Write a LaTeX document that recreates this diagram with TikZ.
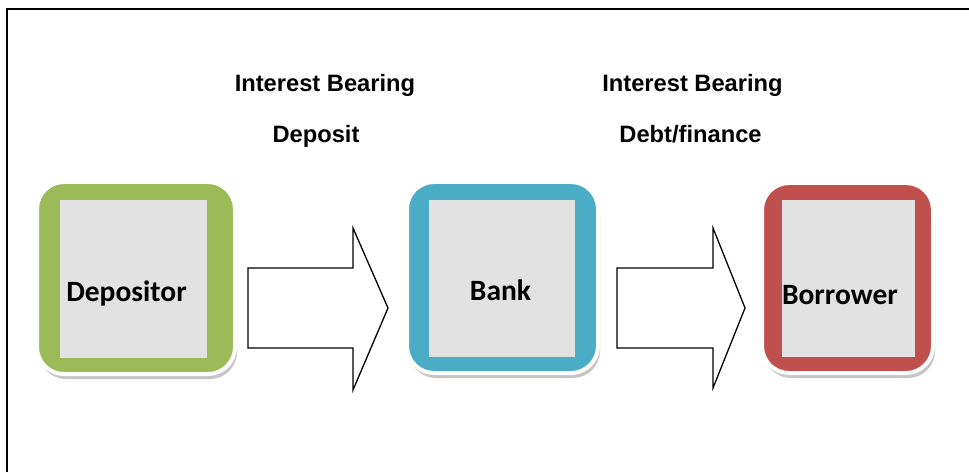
\documentclass[tikz,border=0pt]{standalone}
\usepackage{fontspec}
\setmainfont{Liberation Sans}
\newfontfamily\calibrifont{Carlito}
\usetikzlibrary{shadows}
\definecolor{boxgreen}{HTML}{9BBB59}
\definecolor{boxblue}{HTML}{4BACC6}
\definecolor{boxred}{HTML}{C0504D}
\definecolor{innergrey}{HTML}{E2E2E2}
\tikzset{
  outerbox/.style={draw=white, line width=4pt, rounded corners=27pt, inner sep=0pt,
    drop shadow={shadow xshift=2pt, shadow yshift=-5pt, fill=black!45, opacity=0.5}},
  innerbox/.style={fill=innergrey, draw=none, inner sep=0pt},
  boxlabel/.style={font=\calibrifont\bfseries\fontsize{29.5}{32}\selectfont, anchor=base, inner sep=0pt},
  toplabel/.style={font=\bfseries\fontsize{23.7}{26}\selectfont, anchor=base, inner sep=0pt},
  blockarrow/.style={draw=black, line width=1.3pt, fill=white, line join=miter},
  frameline/.style={draw=black, line width=1.3pt}
}
\begin{document}
\begin{tikzpicture}[x=1pt,y=1pt]
\useasboundingbox (0,0) rectangle (969,472);
\fill[white] (0,0) rectangle (969,472);
\draw[frameline] (7,0) -- (7,463) -- (969,463);

% boxes
\node[outerbox, fill=boxgreen, minimum width=198pt, minimum height=192pt] (dep) at (136,194) {};
\node[innerbox, minimum width=147pt, minimum height=158pt] (depin) at (133.5,193) {};
\node[boxlabel] (deplbl) at (126.5,171) {Depositor};

\node[outerbox, fill=boxblue, minimum width=191pt, minimum height=191pt] (bank) at (502.5,194.5) {};
\node[innerbox, minimum width=146pt, minimum height=157pt] (bankin) at (502,193.5) {};
\node[boxlabel] (banklbl) at (500.5,172) {Bank};

\node[outerbox, fill=boxred, minimum width=171pt, minimum height=190pt] (bor) at (847.5,194) {};
\node[innerbox, minimum width=133pt, minimum height=157pt] (borin) at (848.5,193.5) {};
\node[boxlabel] (borlbl) at (840,168) {Borrower};

% block arrows
\draw[blockarrow] (248,204) -- (353,204) -- (353,244) -- (388,164) -- (353,82) -- (353,124) -- (248,124) -- cycle;
\draw[blockarrow] (617,204) -- (713,204) -- (713,244) -- (745,164) -- (713,84) -- (713,124) -- (617,124) -- cycle;

% top labels
\node[toplabel] (ib1) at (325,380) {Interest Bearing};
\node[toplabel] (dl) at (316,329) {Deposit};
\node[toplabel] (ib2) at (692.5,380) {Interest Bearing};
\node[toplabel] (df) at (690.5,329) {Debt/finance};
\end{tikzpicture}
\end{document}
